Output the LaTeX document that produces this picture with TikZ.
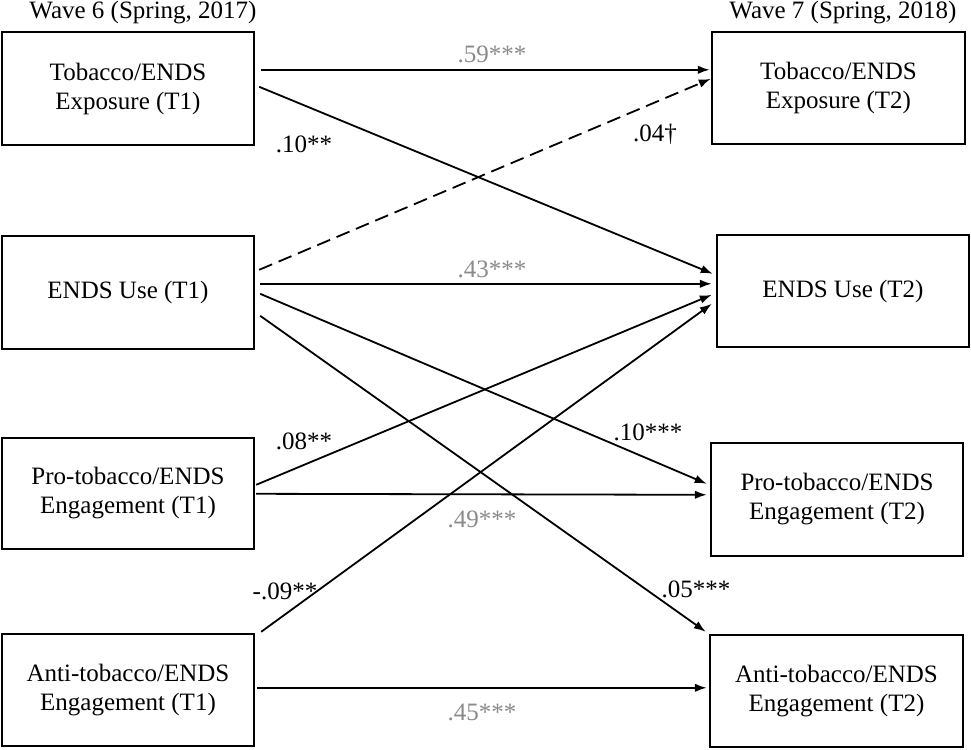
\documentclass[tikz,border=0pt]{standalone}
\usepackage{fontspec}
\setmainfont{Liberation Serif}
\usetikzlibrary{arrows.meta,calc}
\definecolor{coefgray}{HTML}{8A8A8A}
\begin{document}
\begin{tikzpicture}[x=1pt,y=-1pt,
  every node/.style={font=\fontsize{25}{29}\selectfont, inner sep=0pt},
  varbox/.style={draw, line width=2.4pt, minimum width=252pt, minimum height=112pt, align=center},
  path/.style={line width=1.8pt, -{Latex[length=12pt,width=8.5pt]}},
  dashedpath/.style={path, dash pattern=on 14pt off 7pt},
  coef/.style={anchor=base},
  graycoef/.style={anchor=base, text=coefgray}]
\useasboundingbox (0,0) rectangle (971,749);

% headings
\node[anchor=base] (h6) at (143,18.5) {Wave 6 (Spring, 2017)};
\node[anchor=base] (h7) at (843,18.5) {Wave 7 (Spring, 2018)};

% left boxes
\node[varbox, minimum height=113pt] (L1) at (128,88.5) {Tobacco/ENDS\\Exposure (T1)};
\node[varbox, minimum height=113pt] (L2) at (128,292.5) {ENDS Use (T1)};
\node[varbox, minimum height=111pt] (L3) at (128,493.5) {Pro-tobacco/ENDS\\Engagement (T1)};
\node[varbox] (L4) at (128,690) {Anti-tobacco/ENDS\\Engagement (T1)};

% right boxes
\node[varbox, minimum width=253pt] (R1) at (838.5,88) {Tobacco/ENDS\\Exposure (T2)};
\node[varbox] (R2) at (843,291) {ENDS Use (T2)};
\node[varbox, minimum height=113pt] (R3) at (837,499.5) {Pro-tobacco/ENDS\\Engagement (T2)};
\node[varbox, minimum width=253pt] (R4) at (836.5,691) {Anti-tobacco/ENDS\\Engagement (T2)};

% paths
\draw[path] ($(L1.north east)+(6,39)$) -- ($(R1.north west)+(-1,39)$);
\draw[path] ($(L1.north east)+(4,56)$) -- ($(R2.north west)+(-3,40)$);
\draw[dashedpath] ($(L2.north east)+(4,35)$) -- ($(R1.north west)+(0,48)$);
\draw[path] ($(L2.north east)+(5,49)$) -- ($(R2.north west)+(-4,50)$);
\draw[path] ($(L2.north east)+(5,59)$) -- ($(R3.north west)+(-3,42)$);
\draw[path] ($(L2.north east)+(5,81)$) -- ($(R4.north west)+(-3,-2)$);
\draw[path] ($(L3.north east)+(1,48)$) -- ($(R2.north west)+(-4,61)$);
\draw[path] ($(L3.north east)+(1,57)$) -- ($(R3.north west)+(-3,53)$);
\draw[path] ($(L4.north east)+(6,-1)$) -- ($(R2.north west)+(-4,70)$);
\draw[path] ($(L4.north east)+(2,55)$) -- ($(R4.north west)+(-2,54)$);

% coefficients
\node[graycoef] (c1) at (492,63) {.59***};
\node[coef] (c2) at (304,153) {.10**};
\node[coef] (c3) at (655,142) {.04\textdagger};
\node[graycoef] (c4) at (492,277) {.43***};
\node[coef] (c5) at (648,440) {.10***};
\node[coef] (c6) at (304,449) {.08**};
\node[graycoef] (c7) at (482,527) {.49***};
\node[coef] (c8) at (285,599) {-.09**};
\node[coef] (c9) at (696,597) {.05***};
\node[graycoef] (c10) at (482,720) {.45***};
\end{tikzpicture}
\end{document}
